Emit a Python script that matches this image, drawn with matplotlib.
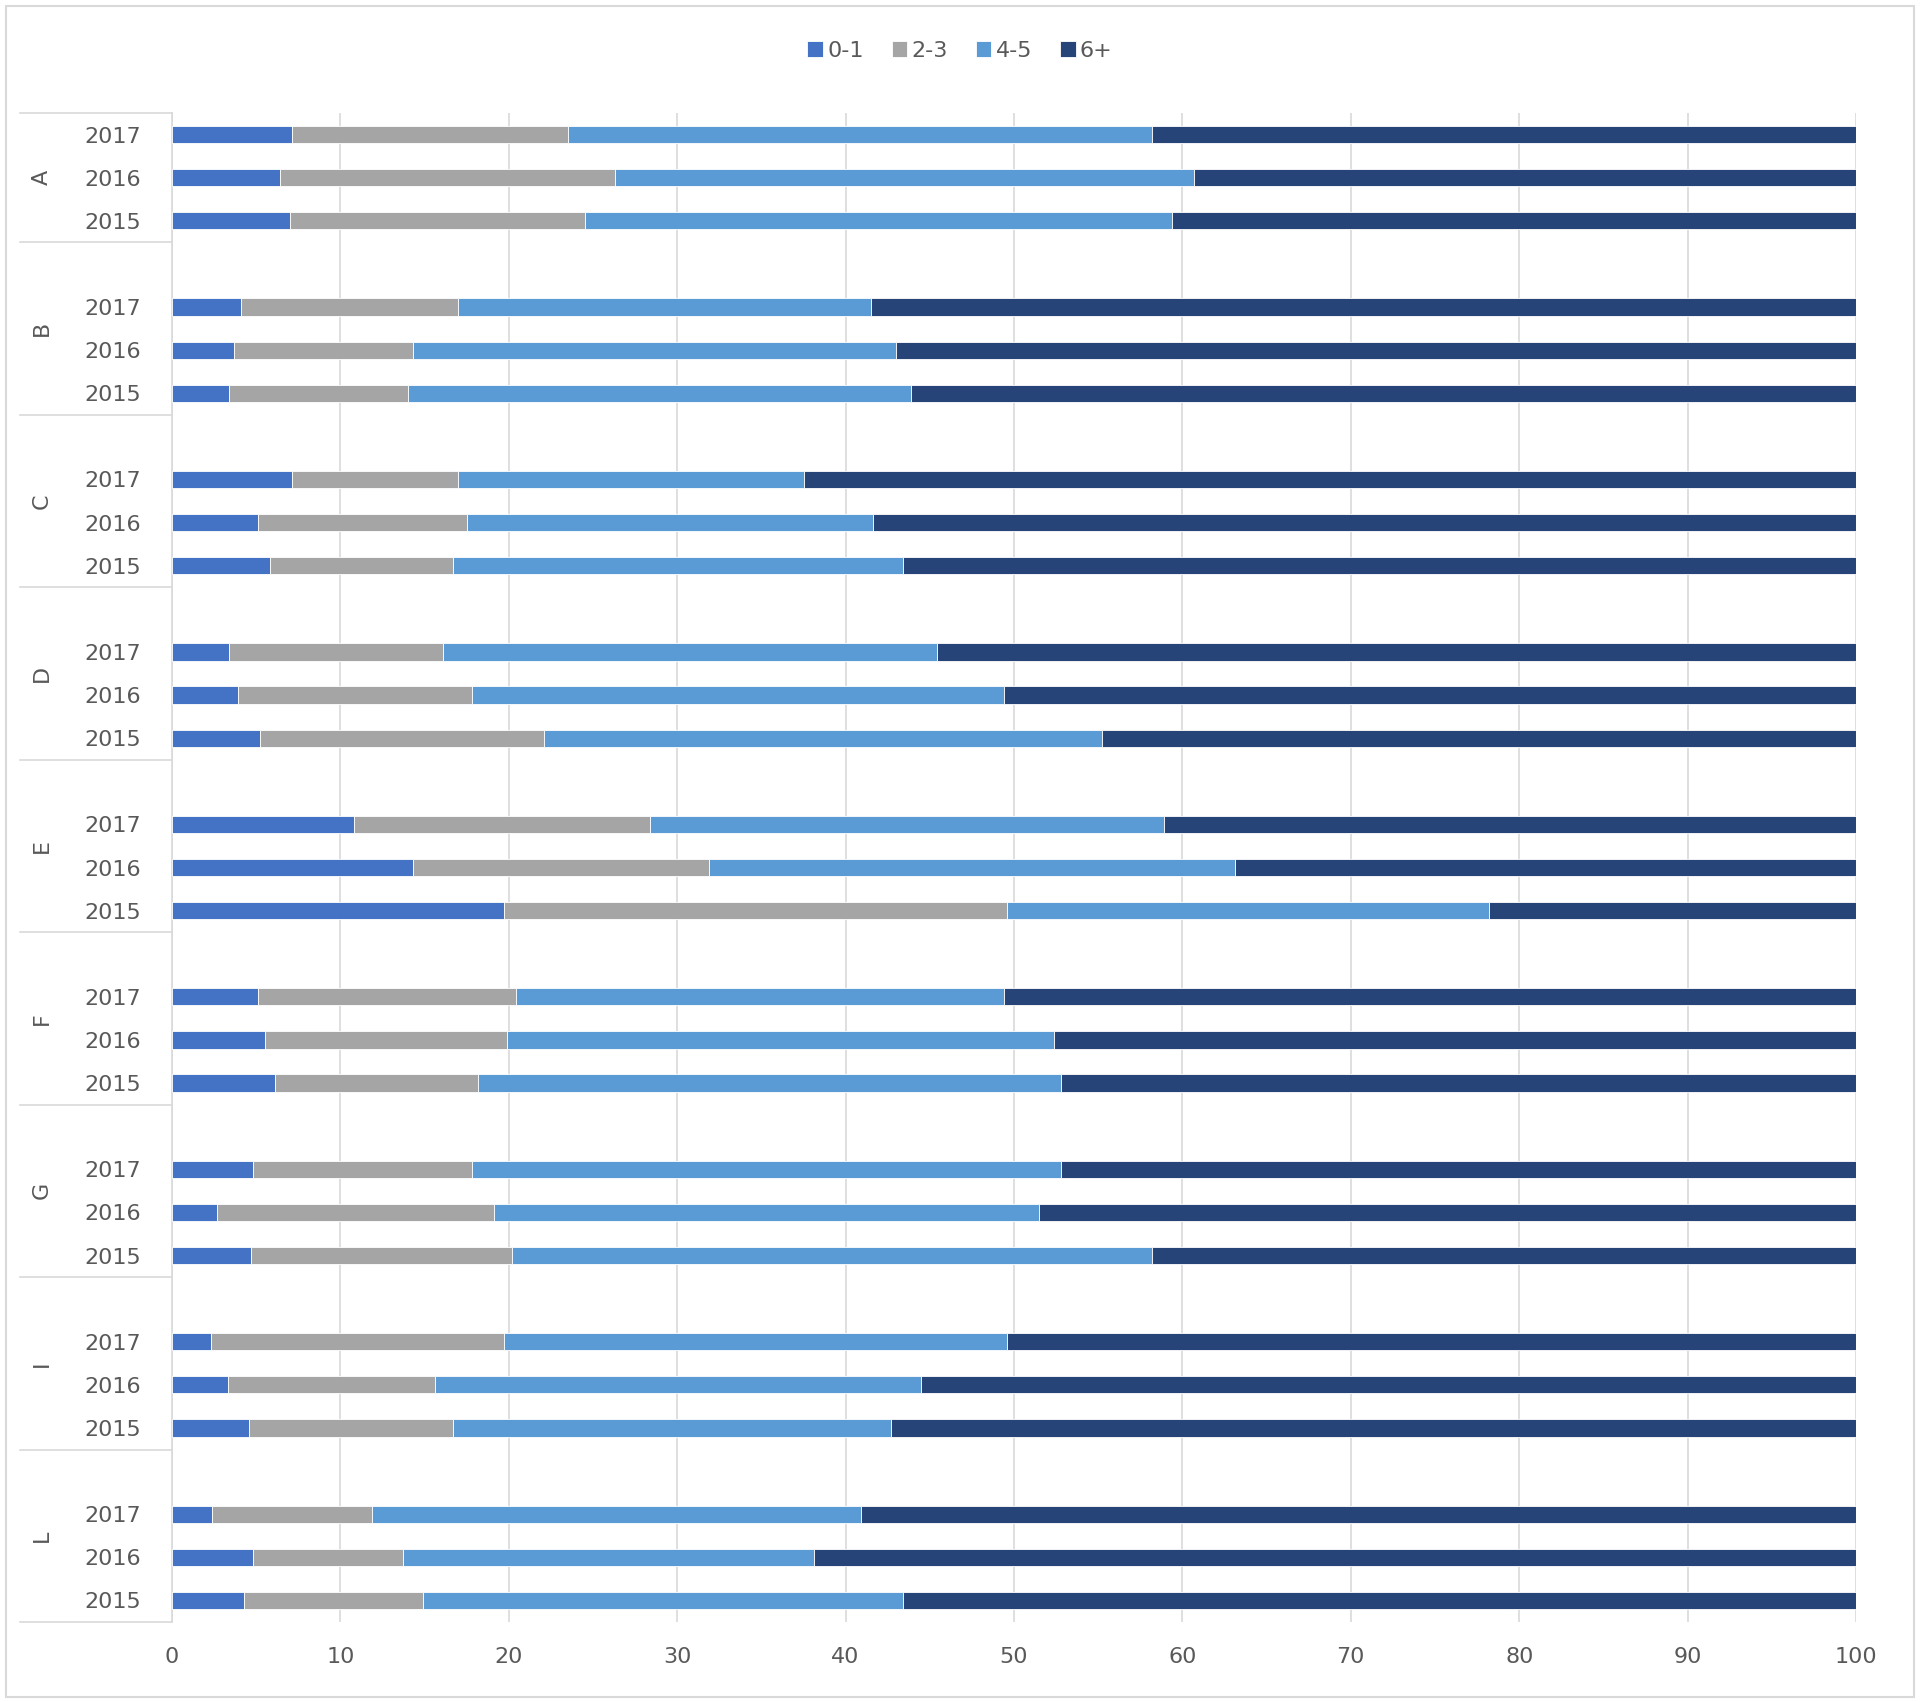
import matplotlib.pyplot as plt
import matplotlib.transforms as mtransforms
from matplotlib.patches import Rectangle
import numpy as np

plt.rcParams['font.family'] = ['DejaVu Sans']

categories = ['A', 'B', 'C', 'D', 'E', 'F', 'G', 'I', 'L']
years = ['2017', '2016', '2015']
series_names = ['0-1', '2-3', '4-5', '6+']
colors = ['#4472C4', '#A5A5A5', '#5B9BD5', '#264478']

# values listed top to bottom: A 2017, A 2016, A 2015, B 2017, ...
s01 = [7.1, 6.4, 7.0, 4.1, 3.7, 3.4, 7.1, 5.1, 5.8, 3.4, 3.9, 5.2,
       10.8, 14.3, 19.7, 5.1, 5.5, 6.1, 4.8, 2.7, 4.7, 2.3, 3.3, 4.6,
       2.4, 4.8, 4.3]
s23 = [16.4, 19.9, 17.5, 12.9, 10.6, 10.6, 9.9, 12.4, 10.9, 12.7, 13.9, 16.9,
       17.6, 17.6, 29.9, 15.3, 14.4, 12.1, 13.0, 16.4, 15.5, 17.4, 12.3, 12.1,
       9.5, 8.9, 10.6]
s45 = [34.7, 34.4, 34.9, 24.5, 28.7, 29.9, 20.5, 24.1, 26.7, 29.3, 31.6, 33.1,
       30.5, 31.2, 28.6, 29.0, 32.5, 34.6, 35.0, 32.4, 38.0, 29.9, 28.9, 26.0,
       29.0, 24.4, 28.5]
s6p = [41.8, 39.3, 40.6, 58.5, 57.0, 56.1, 62.5, 58.4, 56.6, 54.6, 50.6, 44.8,
       41.1, 36.9, 21.8, 50.6, 47.6, 47.2, 47.2, 48.5, 41.8, 50.4, 55.5, 57.3,
       59.1, 61.9, 56.6]

# slot positions: one blank slot before every group except the first
pos = []
for g in range(len(categories)):
    for j in range(len(years)):
        pos.append(g * 4 + j)
pos = np.array(pos)
nslots = pos[-1] + 1

W, H = 1920, 1702
fig = plt.figure(figsize=(W / 100, H / 100), dpi=100)
ax = fig.add_axes([172 / W, 1 - 1622 / H, (1856 - 172) / W, (1622 - 113) / H])

left = np.zeros(len(pos))
for name, vals, c in zip(series_names, [s01, s23, s45, s6p], colors):
    ax.barh(pos, vals, left=left, height=0.4, color=c, edgecolor='white',
            linewidth=0.6, label=name, zorder=3)
    left += np.array(vals)

ax.set_xlim(0, 100)
ax.set_ylim(nslots - 0.5, -0.5)
ax.set_xticks(np.arange(0, 101, 10))
ax.xaxis.grid(True, color='#D9D9D9', linewidth=1.2, zorder=0)
ax.tick_params(axis='x', length=0, pad=18, labelsize=16, labelcolor='#595959')
ax.set_yticks(pos)
ax.set_yticklabels([years[i % 3] for i in range(len(pos))], va='bottom')
ax.tick_params(axis='y', length=0, pad=22, labelsize=16, labelcolor='#595959')
for lab in ax.get_yticklabels():
    lab.set_verticalalignment('center_baseline')
for s in ['top', 'right', 'bottom']:
    ax.spines[s].set_visible(False)
ax.spines['left'].set_color('#D9D9D9')
ax.spines['left'].set_linewidth(1.2)

# group separators and category labels
trans = mtransforms.blended_transform_factory(ax.transAxes, ax.transData)
xl = (20 - 172) / (1856 - 172)
bounds = [-0.5] + [g * 4 + 2.5 for g in range(len(categories))]
for b in bounds:
    ax.plot([xl, 0], [b, b], transform=trans, color='#D9D9D9', lw=1.2,
            clip_on=False)
for g, cat in enumerate(categories):
    yc = 1 if g == 0 else g * 4 + 0.5
    ax.text((42 - 172) / (1856 - 172), yc, cat, transform=trans, rotation=90,
            ha='center', va='center', fontsize=16, color='#595959')

leg = fig.legend(loc='center', bbox_to_anchor=(0.5, 1 - 51 / H), ncol=4,
                 frameon=False, fontsize=16, handlelength=0.7, handleheight=0.7,
                 handletextpad=0.2, columnspacing=1.25, labelcolor='#595959')

fig.patches.append(Rectangle((6 / W, 5 / H), 1 - 12 / W, 1 - 11 / H,
                             transform=fig.transFigure, fill=False,
                             edgecolor='#D9D9D9', linewidth=1.5))

fig.savefig('out.png', dpi=100)
